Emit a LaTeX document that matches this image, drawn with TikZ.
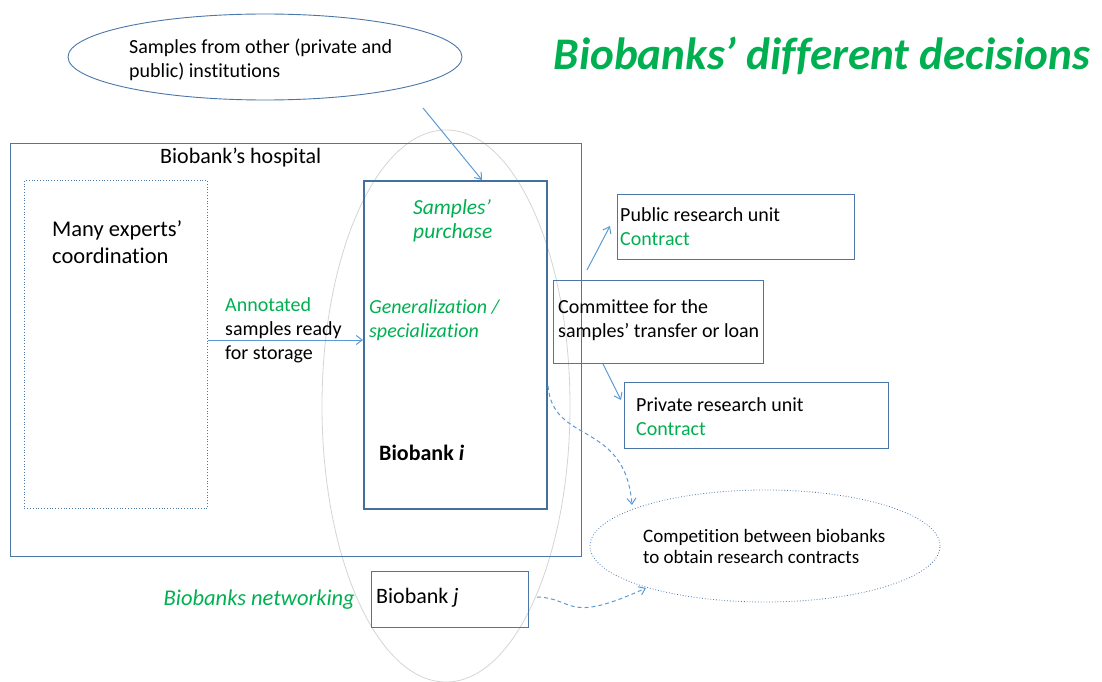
\documentclass[tikz,border=0pt]{standalone}
\usepackage{fontspec}
\setmainfont{Carlito}[Ligatures=NoCommon]
\usetikzlibrary{shapes.geometric,arrows.meta,calc}
\definecolor{boxblue}{HTML}{4A76A8}
\definecolor{darkblue}{HTML}{41719C}
\definecolor{arrblue}{HTML}{5B9BD5}
\definecolor{grn}{HTML}{00B050}
\definecolor{ellgray}{HTML}{D4D4D4}
\begin{document}
\begin{tikzpicture}[x=1pt,y=-1pt,
  boxline/.style={draw=boxblue, line width=0.9pt, inner sep=0pt, anchor=north west},
  arr/.style={draw=arrblue, line width=1pt, -{Straight Barb[length=6pt,width=9pt]}},
  dasharr/.style={draw=arrblue, line width=1pt, dash pattern=on 4pt off 3pt, -{Straight Barb[length=6pt,width=9pt]}},
  txt/.style={anchor=base west, align=left, inner sep=0pt, font=\fontsize{20}{24}\selectfont},
  gtxt/.style={txt, text=grn, font=\fontsize{20}{24}\selectfont\itshape},
]
\useasboundingbox (0,0) rectangle (1102,682);
% big gray ellipse
\node[draw=ellgray, line width=0.8pt, ellipse, minimum width=248, minimum height=552, inner sep=0pt] (net) at (446,406) {};
% title
\node[anchor=base east, inner sep=0pt, text=grn, font=\fontsize{45.2}{50}\selectfont\bfseries\itshape] (title) at (1090,70) {Biobanks’ different decisions};
% samples ellipse
\node[draw=boxblue, line width=0.9pt, ellipse, minimum width=394, minimum height=86, inner sep=0pt] (samp) at (265,57) {};
\node[txt, font=\fontsize{20}{24.5}\selectfont] (samptxt) at (129,78) {Samples from other (private and\\public) institutions};
% hospital
\node[boxline, minimum width=571, minimum height=413] (hosp) at (10,143) {};
\node[txt, font=\fontsize{22}{26}\selectfont] (hosptxt) at (160,163) {Biobank’s hospital};
% experts
\node[draw=boxblue, line width=0.8pt, dotted, inner sep=0pt, anchor=north west, minimum width=183, minimum height=328] (exp) at (24,180) {};
\node[txt, font=\fontsize{22.5}{27}\selectfont] (exptxt) at (52,263) {Many experts’\\coordination};
% biobank i
\node[draw=darkblue, line width=2.4pt, inner sep=0pt, anchor=north west, minimum width=183, minimum height=328] (bi) at (363,180) {};
\node[gtxt, font=\fontsize{21.5}{23.5}\selectfont\itshape] (purch) at (413,238) {Samples’\\purchase};
\node[gtxt] (gen) at (369,337) {Generalization /\\specialization};
\node[txt, font=\fontsize{22}{24}\selectfont\bfseries] (bitxt) at (379,460) {Biobank \textit{i}};
% annotated arrow
\draw[arr] (exp.east |- 0,340) -- (bi.west |- 0,340);
\node[txt] (ann) at (225,359) {\textcolor{grn}{Annotated}\\samples ready\\for storage};
% samples arrow
\coordinate (s1) at (423,108);
\draw[arr] (s1) -- (bi.north -| 482,0);
% committee
\node[boxline, minimum width=210, minimum height=83] (com) at (553,280) {};
\node[txt] (comtxt) at (558,337) {Committee for the\\samples’ transfer or loan};
% public
\node[boxline, minimum width=237, minimum height=65] (pub) at (617,194) {};
\node[txt] (pubtxt) at (620,245) {Public research unit\\\textcolor{grn}{Contract}};
% private
\node[boxline, minimum width=264, minimum height=66] (priv) at (624,382) {};
\node[txt] (privtxt) at (636,435) {Private research unit\\\textcolor{grn}{Contract}};
% committee arrows
\coordinate (c1) at (587,270);
\coordinate (c2) at (610,226);
\draw[arr] (c1) -- (c2);
\draw[arr] (com.south -| 603,0) -- (621,400);
% competition
\node[draw=boxblue, line width=0.8pt, dotted, ellipse, minimum width=350, minimum height=112, inner sep=0pt] (comp) at (765,546) {};
\node[txt, font=\fontsize{19}{20.5}\selectfont] (comptxt) at (643,563) {Competition between biobanks\\to obtain research contracts};
% biobank j
\node[boxline, minimum width=157, minimum height=56] (bj) at (371,571) {};
\node[txt, font=\fontsize{22}{24}\selectfont] (bjtxt) at (376,603) {Biobank \textit{j}};
\node[anchor=base east, inner sep=0pt, text=grn, font=\fontsize{22.5}{24}\selectfont\itshape] (netw) at (355,605) {Biobanks networking};
% dashed arrows
\coordinate (d1) at (548,386);
\coordinate (d2) at (632,505);
\draw[dasharr] (d1) .. controls (553,445) and (625,420) .. (d2);
\coordinate (e1) at (537,597);
\coordinate (e2) at (646,588);
\draw[dasharr] (e1) .. controls (575,598) and (565,625) .. (e2);
\end{tikzpicture}
\end{document}
